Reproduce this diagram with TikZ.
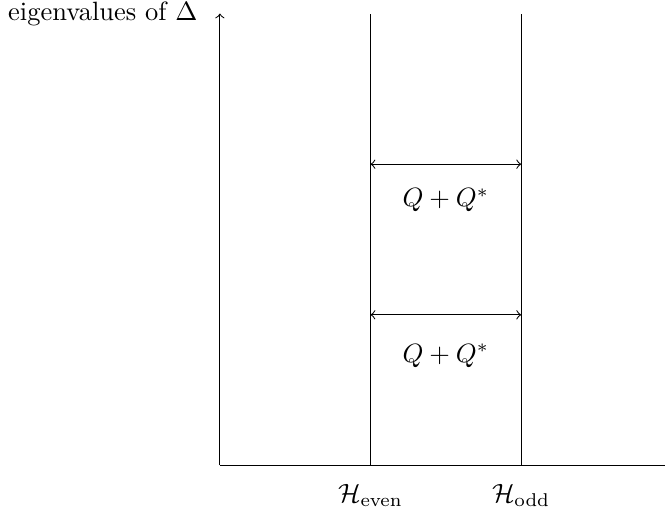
\documentclass[tikz,border=0pt]{standalone}
\usepackage{amsmath}
\usepackage{amssymb}
\usetikzlibrary{positioning,calc}

\begin{document}
\begin{tikzpicture}[
  axis/.style={->},
  wall/.style={},
  swap/.style={<->}
]
\useasboundingbox (-2.92,-0.65) rectangle (5.91,6.18);

% Axes
\coordinate (O) at (0,0);
\coordinate (xend) at (5.91,0);
\coordinate (ytop) at (0,6);
\draw (O) -- (xend);
\draw[axis] (O) -- (ytop) node[left, xshift=-5pt] (ylab) {eigenvalues of $\Delta$};

% Even and odd parts
\coordinate (ebot) at (2,0);
\coordinate (etop) at (2,6);
\coordinate (obot) at (4,0);
\coordinate (otop) at (4,6);
\draw[wall] (ebot) -- (etop);
\draw[wall] (obot) -- (otop);
\node (heven) at (2,-0.4) {$\mathcal{H}_{\text{even}}$};
\node (hodd) at (4,-0.4) {$\mathcal{H}_{\text{odd}}$};

% Q + Q^* maps
\coordinate (e1) at (2,2);
\coordinate (o1) at (4,2);
\coordinate (e2) at (2,4);
\coordinate (o2) at (4,4);
\draw[swap] (e1) -- (o1);
\draw[swap] (e2) -- (o2);
\node (q1) at (3,1.46) {$Q+Q^*$};
\node (q2) at (3,3.52) {$Q+Q^*$};

\end{tikzpicture}
\end{document}
